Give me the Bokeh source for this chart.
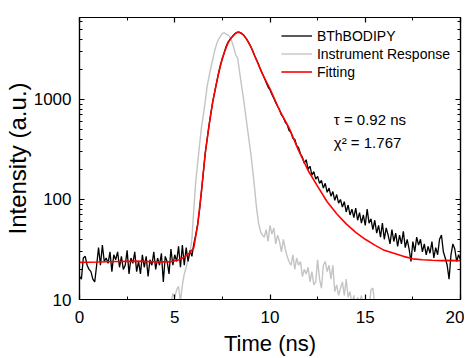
import numpy as np
from bokeh.plotting import figure
from bokeh.models import (Range1d, LogAxis, LinearAxis, LogTicker, SingleIntervalTicker,
                          PrintfTickFormatter, CustomJSTickFormatter, Legend, LegendItem, Label)
from bokeh.embed import file_html
from bokeh.resources import INLINE

# ---- data ----
time_ns = np.round(np.arange(0, 201) * 0.1, 1)
bthbodipy = [
    17, 16, 26, 27, 22, 20, 19, 16, 15, 22,
    33, 22, 35, 24, 26, 23, 30, 19, 28, 25,
    30, 21, 27, 20, 22, 31, 18, 26, 23, 30,
    19, 24, 18, 28, 21, 27, 17, 25, 22, 30,
    20, 26, 22, 29, 15, 27, 24, 18, 32, 22,
    28, 24, 34, 21, 35, 22, 33, 24, 31, 27,
    36, 44, 56, 78, 120, 185, 290, 400, 550, 740,
    960, 1200, 1480, 1850, 2200, 2600, 2950, 3400, 3750, 4000,
    4200, 4450, 4620, 4720, 4700, 4600, 4420, 4180, 3930, 3640,
    3350, 3050, 2720, 2480, 2250, 2000, 1820, 1640, 1480, 1330,
    1250, 1120, 1030, 930, 850, 790, 700, 660, 590, 560,
    490, 470, 410, 400, 345, 330, 285, 265, 230, 250,
    200, 215, 175, 190, 160, 170, 145, 155, 130, 145,
    118, 130, 108, 120, 98, 112, 92, 100, 84, 95,
    75, 88, 70, 80, 66, 82, 62, 74, 58, 70,
    55, 80, 58, 64, 50, 62, 46, 55, 42, 58,
    40, 52, 44, 36, 50, 38, 46, 34, 44, 36,
    48, 33, 40, 32, 24, 38, 30, 42, 35, 40,
    30, 36, 28, 34, 29, 38, 26, 33, 28, 40,
    44, 30, 26, 22, 16, 28, 36, 32, 24, 28,
    25,
]

irf_time = np.round(np.arange(47, 157) * 0.1, 1)
irf = [
    8, 9, 11.5,
    10.5, 12.5, 13.5, 9.5, 14, 18, 21, 25, 30, 40,
    80, 150, 230, 350, 520, 700, 950, 1350, 1700, 2100,
    2550, 3100, 3600, 4000, 4300, 4550, 4650, 4500, 4400, 4200,
    3800, 3300, 2800, 2600, 1900, 1400, 1050, 750, 540, 390,
    280, 190, 125, 80, 58, 48, 44, 42, 50, 38,
    55, 45, 52, 36, 44, 38, 30, 40, 32, 27,
    24, 22, 28, 20, 26, 22, 24, 17, 20, 18,
    21, 15, 19, 14, 15, 25, 16, 13, 22, 24,
    19, 22, 16, 22, 12, 14, 11, 13, 15, 11,
    16, 10.5, 12, 9, 11, 8, 10.5, 9, 11, 8,
    10, 9, 8, 12.5, 13, 9, 8,
]

fit_time = [0, 1, 2, 3, 4, 4.8, 5.2, 5.5, 5.8,
            6.0, 6.2, 6.4, 6.6, 6.8, 7.0, 7.2, 7.4, 7.6, 7.8, 8.0,
            8.2, 8.3, 8.4, 8.6, 8.8, 9.0, 9.3, 9.6, 10.0,
            10.5, 11.0, 11.5, 12.0, 12.5, 13.0, 13.5, 14.0, 14.5, 15.0,
            15.5, 16.0, 16.5, 17.0, 17.5, 18.0, 18.5, 19.0, 19.5, 20.0]
fit = [23.5, 23.7, 24, 24.2, 23.8, 23.8, 24.8, 26.5, 29.5,
       33, 55, 120, 290, 550, 960, 1480, 2200, 2950, 3700, 4200,
       4600, 4700, 4680, 4450, 3950, 3350, 2450, 1800, 1280,
       780, 520, 310, 195, 135, 95, 72, 57, 47, 40,
       35, 31, 29, 27, 25.5, 25, 24.7, 24.5, 24.6, 24.4]

series_labels = ["BThBODIPY", "Instrument Response", "Fitting"]
annot_tau = "τ = 0.92 ns"
annot_chi = "χ² = 1.767"

FONT = "Liberation Sans"

p = figure(frame_width=381, frame_height=282, output_backend="svg", toolbar_location=None,
           y_axis_type="log", x_range=Range1d(0, 20), y_range=Range1d(10, 6600),
           min_border_left=72, min_border_right=4, min_border_top=17, min_border_bottom=40)
p.background_fill_color = "white"
p.border_fill_color = "white"
p.outline_line_color = "black"
p.outline_line_width = 1.2
p.grid.visible = False

r_irf = p.line(irf_time, irf, line_color="#c4c4c4", line_width=1.4)
r_dat = p.line(time_ns, bthbodipy, line_color="black", line_width=1.3)
r_fit = p.line(fit_time, fit, line_color="#ff0000", line_width=1.6)


def style_axis(ax):
    ax.axis_line_color = "black"
    ax.axis_line_width = 1.2
    ax.major_tick_in = 5
    ax.major_tick_out = 0
    ax.minor_tick_in = 3
    ax.minor_tick_out = 0
    ax.major_tick_line_color = "black"
    ax.minor_tick_line_color = "black"
    ax.major_tick_line_width = 1.2
    ax.minor_tick_line_width = 1


bx = p.xaxis[0]
bx.ticker = SingleIntervalTicker(interval=5, num_minor_ticks=2)
style_axis(bx)
bx.major_label_text_font = FONT
bx.major_label_text_font_size = "17px"
bx.major_label_text_color = "black"
bx.major_label_standoff = 11
bx.axis_label = "Time (ns)"
bx.axis_label_text_font = FONT
bx.axis_label_text_font_style = "normal"
bx.axis_label_text_font_size = "22px"
bx.axis_label_text_color = "black"
bx.axis_label_standoff = 5

ly = p.yaxis[0]
ly.ticker = LogTicker(num_minor_ticks=10)
ly.formatter = PrintfTickFormatter(format="%d")
style_axis(ly)
ly.major_label_text_font = FONT
ly.major_label_text_font_size = "17px"
ly.major_label_text_color = "black"
ly.major_label_standoff = 8
ly.axis_label = "Intensity (a.u.)"
ly.axis_label_text_font = FONT
ly.axis_label_text_font_style = "normal"
ly.axis_label_text_font_size = "24px"
ly.axis_label_text_color = "black"
ly.axis_label_standoff = 0

blank = "return '';"
top = LinearAxis(ticker=SingleIntervalTicker(interval=5, num_minor_ticks=2),
                 formatter=CustomJSTickFormatter(code=blank))
style_axis(top)
top.major_label_standoff = 0
top.major_label_text_font_size = "6px"
p.add_layout(top, "above")

right = LogAxis(ticker=LogTicker(num_minor_ticks=10),
                formatter=CustomJSTickFormatter(code=blank))
style_axis(right)
right.major_label_standoff = 0
right.major_label_text_font_size = "6px"
p.add_layout(right, "right")

legend = Legend(items=[LegendItem(label=series_labels[0], renderers=[r_dat]),
                       LegendItem(label=series_labels[1], renderers=[r_irf]),
                       LegendItem(label=series_labels[2], renderers=[r_fit])],
                location="top_right", padding=0, margin=10, spacing=1,
                label_height=17, glyph_height=17, glyph_width=31, label_standoff=5,
                label_text_font=FONT, label_text_font_size="14px",
                label_text_color="black", border_line_alpha=0, background_fill_alpha=0)
p.add_layout(legend)

p.add_layout(Label(x=13.35, y=631, text=annot_tau, text_font=FONT, text_font_size="15px",
                   text_color="black", text_baseline="alphabetic"))
p.add_layout(Label(x=13.35, y=374, text=annot_chi, text_font=FONT, text_font_size="15px",
                   text_color="black", text_baseline="alphabetic"))

open("out.html", "w").write(file_html(p, INLINE))
